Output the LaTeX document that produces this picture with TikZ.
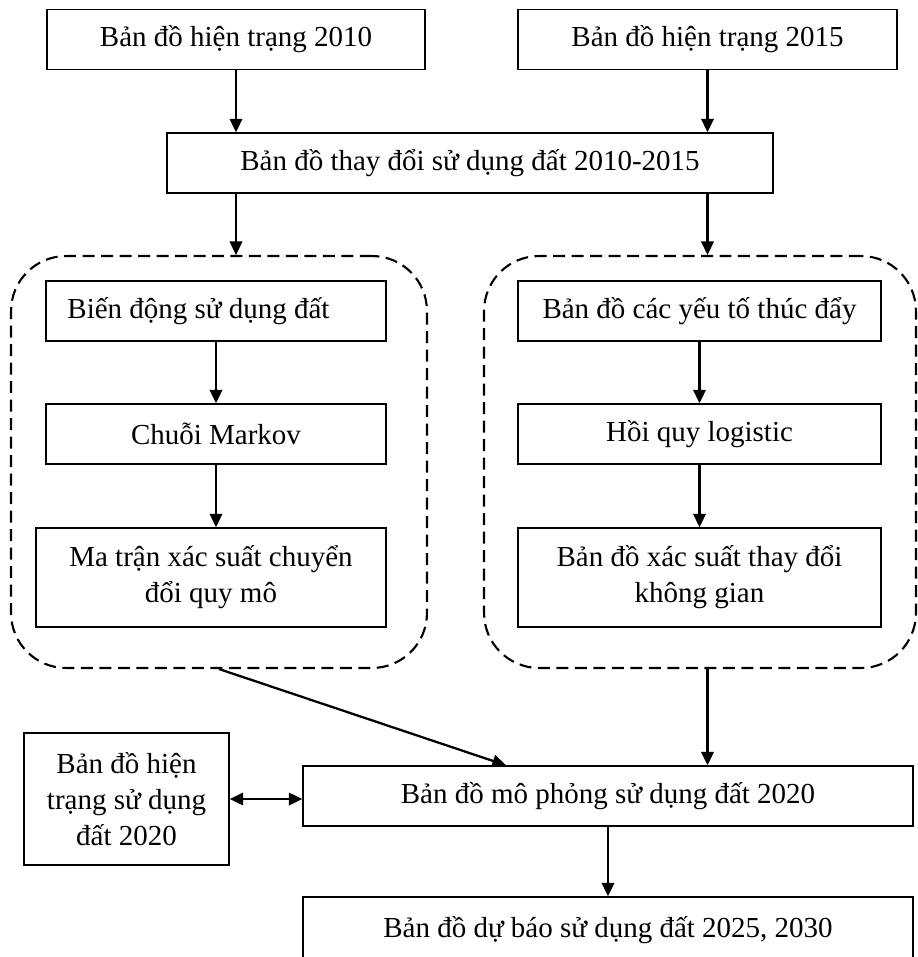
\documentclass[tikz,border=0pt]{standalone}
\usepackage{fontspec}
\setmainfont{Liberation Serif}
\usetikzlibrary{arrows.meta, positioning, calc}

\begin{document}
\begin{tikzpicture}[
    x=0.02cm, y=-0.02cm,
    block/.style={rectangle, draw, line width=0.85pt, minimum height=1.2cm, inner sep=2pt, align=center, font=\fontsize{16.5pt}{20.5pt}\selectfont},
    group/.style={rectangle, draw, dashed, dash pattern=on 0.24cm off 0.13cm, line width=1.2pt, rounded corners=1.1cm},
    arr/.style={-{Triangle[length=0.27cm, width=0.25cm]}, line width=1.3pt},
    darr/.style={{Triangle[length=0.27cm, width=0.25cm]}-{Triangle[length=0.27cm, width=0.25cm]}, line width=1.3pt}
    ]
    \useasboundingbox (0,0) rectangle (918,957);

    % Input maps
    \node[block, minimum width=7.56cm] (map10) at (236,39.5) {Bản đồ hiện trạng 2010};
    \node[block, minimum width=7.58cm] (map15) at (707.5,39.5) {Bản đồ hiện trạng 2015};

    % Change map
    \node[block, minimum width=12.12cm] (change) at (470,163) {Bản đồ thay đổi sử dụng đất 2010-2015};
    \draw[arr] (map10.south) -- (map10.south |- change.north);
    \draw[arr] (map15.south) -- (map15.south |- change.north);

    % Markov branch
    \node[group, minimum width=8.32cm, minimum height=8.24cm] (lgrp) at (219,462) {};
    \node[block, minimum width=6.8cm] (lucc) at (216,311) {\hspace*{-0.7cm}Biến động sử dụng đất};
    \node[block, minimum width=6.8cm] (markov) at (216,434) {Chuỗi Markov};
    \node[block, minimum width=7.0cm, minimum height=1.98cm] (matrix) at (211,577.5) {Ma trận xác suất chuyển\\đổi quy mô};
    \draw[arr] (lucc) -- (markov);
    \draw[arr] (markov.south) -- (markov.south |- matrix.north);

    % Logistic branch
    \node[group, minimum width=8.64cm, minimum height=8.24cm] (rgrp) at (700,462) {};
    \node[block, minimum width=7.26cm] (drivers) at (699.5,311) {Bản đồ các yếu tố thúc đẩy};
    \node[block, minimum width=7.26cm] (logit) at (699.5,434) {Hồi quy logistic};
    \node[block, minimum width=7.26cm, minimum height=1.98cm] (prob) at (699.5,577.5) {Bản đồ xác suất thay đổi\\không gian};
    \draw[arr] (drivers) -- (logit);
    \draw[arr] (logit) -- (prob);

    \draw[arr] (map10.south |- change.south) -- (map10.south |- lgrp.north);
    \draw[arr] (map15.south |- change.south) -- (map15.south |- rgrp.north);

    % Simulation
    \node[block, minimum width=12.2cm] (sim) at (608,796) {Bản đồ mô phỏng sử dụng đất 2020};
    \node[block, minimum width=4.1cm, minimum height=2.64cm] (cur20) at (126.5,799) {Bản đồ hiện\\trạng sử dụng\\đất 2020};
    \draw[arr] (lgrp.south) -- ($(sim.north west)!0.333!(sim.north east)$);
    \draw[arr] (map15.south |- rgrp.south) -- (map15.south |- sim.north);
    \draw[darr] (cur20.east) -- (cur20.east -| sim.west);

    % Forecast
    \node[block, minimum width=12.2cm, minimum height=1.32cm] (fcast) at (608,930) {Bản đồ dự báo sử dụng đất 2025, 2030};
    \draw[arr] (sim.south) -- (fcast.north);

\end{tikzpicture}
\end{document}
